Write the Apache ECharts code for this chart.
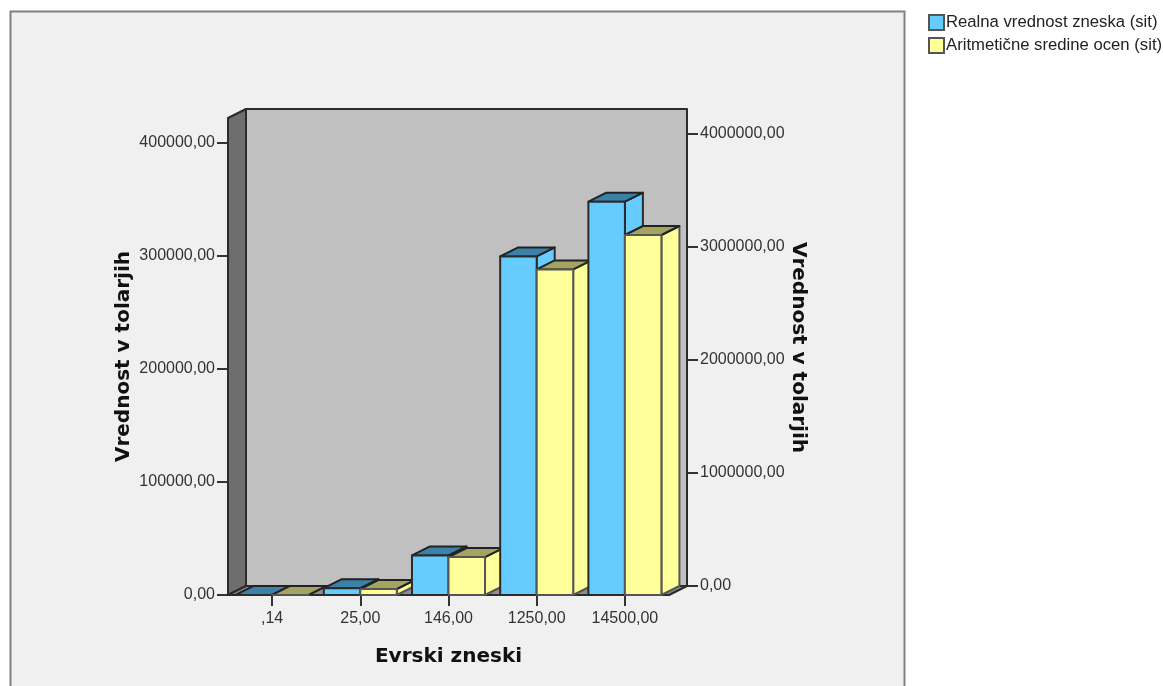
<!DOCTYPE html>
<html>
<head>
<meta charset="utf-8">
<style>
  html, body { margin: 0; padding: 0; background: #fff; }
  #chart { width: 1163px; height: 686px; }
</style>
<script src="https://cdn.jsdelivr.net/npm/echarts@6/dist/echarts.min.js"></script>
</head>
<body>
<div id="chart"></div>
<script>
const categories = [',14', '25,00', '146,00', '1250,00', '14500,00'];
const seriesNames = ['Realna vrednost zneska (sit)', 'Aritmetične sredine ocen (sit)'];

// read against the left axis
const realLeft = [34, 5991, 34987, 299550, null];
const meanLeft = [30, 5300, 33600, 288000, null];
// the last group is read against the right axis
const realRight = [null, null, null, null, 3480000];
const meanRight = [null, null, null, null, 3185000];

const leftTicks = [0, 100000, 200000, 300000, 400000];
const rightTicks = [0, 1000000, 2000000, 3000000, 4000000];

const DEPTH_X = 18;
const DEPTH_Y = 9;
const BAR_RATIO = 0.414;
const GREY_TEXT = '#333333';
const FONT = '"Liberation Sans", Arial, sans-serif';
const TITLE_FONT = '"DejaVu Sans", Verdana, sans-serif';

const chart = echarts.init(document.getElementById('chart'));

function toPoints(rows) {
  return rows
    .map((value, index) => [index, value])
    .filter((row) => row[1] !== null);
}

function formatTick(value) {
  return value.toFixed(2).replace('.', ',');
}

function face(points, fill, stroke, z2) {
  return {
    type: 'polygon',
    z2,
    shape: { points },
    style: { fill, stroke, lineWidth: 2, lineJoin: 'round' },
  };
}

// one 3D bar; shift moves a point from the back plane onto the front plane
function makeBar(seriesIndex, colors, shift) {
  return function renderBar(params, api) {
    const top = api.coord([api.value(0), api.value(1)]);
    const base = api.coord([api.value(0), 0]);
    const width = api.size([1, 0])[0] * BAR_RATIO;
    const x0 = top[0] - shift * DEPTH_X + (seriesIndex - 1) * width;
    const x1 = x0 + width;
    const y0 = top[1] + shift * DEPTH_Y;
    const y1 = base[1] + shift * DEPTH_Y;
    const z2 = 10 + api.value(0) * 4 + seriesIndex * 2;
    return {
      type: 'group',
      children: [
        face([[x1, y0], [x1 + DEPTH_X, y0 - DEPTH_Y], [x1 + DEPTH_X, y1 - DEPTH_Y], [x1, y1]], colors.front, colors.stroke, z2),
        face([[x0, y0], [x0 + DEPTH_X, y0 - DEPTH_Y], [x1 + DEPTH_X, y0 - DEPTH_Y], [x1, y0]], colors.top, '#222222', z2),
        face([[x0, y0], [x1, y0], [x1, y1], [x0, y1]], colors.front, colors.stroke, z2 + 1),
      ],
    };
  };
}

function renderWalls(params) {
  const { x, y, width, height } = params.coordSys;
  const bottom = y + height;
  const right = x + width;
  return {
    type: 'group',
    children: [
      face([[x + DEPTH_X, y - DEPTH_Y], [right + DEPTH_X, y - DEPTH_Y], [right + DEPTH_X, bottom - DEPTH_Y], [x + DEPTH_X, bottom - DEPTH_Y]], '#c0c0c0', '#2b2b2b', 1),
      face([[x, y], [x + DEPTH_X, y - DEPTH_Y], [x + DEPTH_X, bottom - DEPTH_Y], [x, bottom]], '#6e6e6e', '#2b2b2b', 2),
      face([[x, bottom], [x + DEPTH_X, bottom - DEPTH_Y], [right + DEPTH_X, bottom - DEPTH_Y], [right, bottom]], '#8f8f8f', '#2b2b2b', 2),
    ],
  };
}

const blue = { front: '#66ccff', top: '#3d80a8', stroke: '#2b2b2b' };
const yellow = { front: '#ffff99', top: '#a3a362', stroke: '#555555' };

function barSeries(name, rows, seriesIndex, colors, axisIndex) {
  return {
    name,
    type: 'custom',
    xAxisIndex: axisIndex,
    yAxisIndex: axisIndex,
    renderItem: makeBar(seriesIndex, colors, axisIndex),
    encode: { x: 0, y: 1 },
    data: toPoints(rows),
    itemStyle: { color: colors.front, borderColor: '#555555', borderWidth: 1.5 },
    silent: true,
  };
}

function valueAxis(gridIndex, position, max, ticks) {
  return {
    type: 'value',
    gridIndex,
    position,
    min: 0,
    max,
    name: 'Vrednost v tolarjih',
    nameLocation: 'middle',
    nameGap: position === 'left' ? 94 : 96,
    nameRotate: position === 'left' ? 90 : -90,
    nameTextStyle: { fontFamily: TITLE_FONT, fontWeight: 'bold', fontSize: 20, color: '#111111' },
    splitLine: { show: false },
    axisLine: { show: false },
    axisTick: { show: true, length: 11, customValues: ticks, lineStyle: { color: '#333333', width: 2 } },
    axisLabel: {
      customValues: ticks,
      margin: 13,
      padding: [3, 0, 0, 0],
      color: GREY_TEXT,
      fontFamily: FONT,
      fontSize: 16,
      formatter: formatTick,
    },
  };
}

chart.setOption({
  animation: false,
  backgroundColor: '#ffffff',
  graphic: [
    {
      type: 'rect',
      z: -10,
      silent: true,
      shape: { x: 10.5, y: 11.5, width: 894, height: 700 },
      style: { fill: '#f0f0f0', stroke: '#808080', lineWidth: 2 },
    },
  ],
  legend: {
    orient: 'vertical',
    left: 928,
    top: 14,
    padding: 0,
    itemWidth: 15,
    itemHeight: 15,
    itemGap: 6,
    icon: 'rect',
    data: seriesNames,
    selectedMode: false,
    textStyle: { fontFamily: FONT, fontSize: 16.7, lineHeight: 15, color: '#222222', padding: [0, 0, 0, -3] },
  },
  grid: [
    { left: 228, top: 118, width: 441, height: 477 },
    { left: 246, top: 109, width: 441, height: 477 },
  ],
  xAxis: [
    {
      type: 'category',
      gridIndex: 0,
      data: categories,
      name: 'Evrski zneski',
      nameLocation: 'middle',
      nameGap: 52,
      nameTextStyle: { fontFamily: TITLE_FONT, fontWeight: 'bold', fontSize: 20, color: '#111111' },
      axisLine: { show: false },
      axisTick: { show: true, alignWithLabel: true, length: 11, lineStyle: { color: '#333333', width: 2 } },
      axisLabel: { margin: 16, color: GREY_TEXT, fontFamily: FONT, fontSize: 16, interval: 0 },
    },
    {
      type: 'category',
      gridIndex: 1,
      data: categories,
      show: false,
    },
  ],
  yAxis: [
    valueAxis(0, 'left', 422000, leftTicks),
    valueAxis(1, 'right', 4220000, rightTicks),
  ],
  series: [
    {
      type: 'custom',
      name: 'walls',
      xAxisIndex: 0,
      yAxisIndex: 0,
      renderItem: renderWalls,
      data: [[0, 0]],
      silent: true,
    },
    barSeries(seriesNames[0], realLeft, 0, blue, 0),
    barSeries(seriesNames[1], meanLeft, 1, yellow, 0),
    barSeries(seriesNames[0], realRight, 0, blue, 1),
    barSeries(seriesNames[1], meanRight, 1, yellow, 1),
  ],
});
</script>
</body>
</html>
